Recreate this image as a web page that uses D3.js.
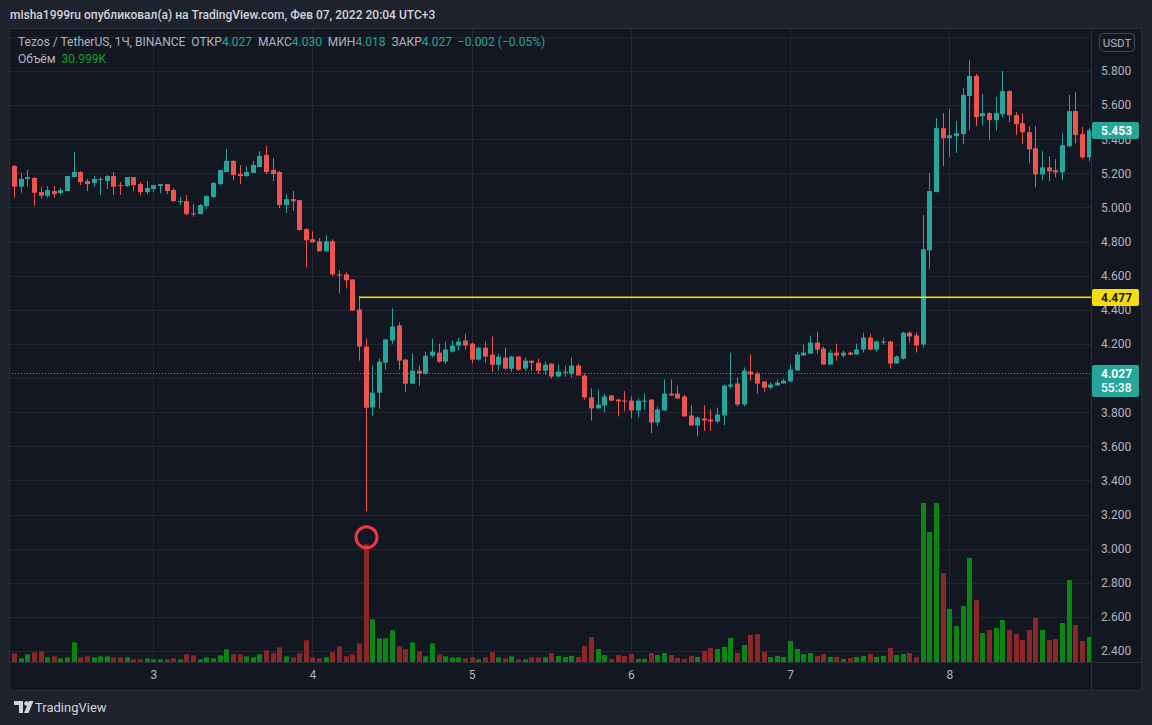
<!DOCTYPE html>
<html><head><meta charset="utf-8">
<script src="https://cdn.jsdelivr.net/npm/d3@7"></script>
<style>
html,body{margin:0;padding:0;background:#1e222d;overflow:hidden;}
svg{display:block;}
text{font-family:Roboto,"Noto Sans",sans-serif;}
</style>
</head><body>
<svg id="c" width="1152" height="725"></svg>
<script>
// ---- DATA (XTZ/USDT, 1h candles, Feb 2 03:00 .. Feb 8 21:00, UTC+3) ----
const startTime = [2022, 1, 2, 3];
const opens = [5.243,5.122,5.167,5.173,5.09,5.069,5.096,5.084,5.096,5.178,5.208,5.155,5.143,5.161,5.155,5.184,5.131,5.126,5.178,5.137,5.09,5.108,5.126,5.137,5.102,5.031,5.037,
4.965,4.961,5.008,5.061,5.137,5.208,5.273,5.196,5.184,5.202,5.237,5.308,5.22,5.208,5.014,5.049,5.043,4.873,4.814,4.802,4.743,4.802,4.608,4.608,4.578,4.402,4.185,
3.828,3.914,4.09,4.22,4.308,4.108,3.967,4.043,4.026,4.131,4.149,4.096,4.155,4.19,4.22,4.202,4.108,4.178,4.137,4.078,4.12,4.055,4.126,4.055,4.102,4.09,4.043,
4.085,4.009,4.032,4.026,4.073,4.015,3.886,3.822,3.839,3.898,3.874,3.868,3.868,3.81,3.865,3.874,3.74,3.81,3.909,3.909,3.892,3.781,3.722,3.763,3.757,3.745,3.781,
3.95,3.968,3.845,4.038,4.026,3.98,3.944,3.956,3.968,3.98,4.044,4.132,4.143,4.208,4.173,4.079,4.149,4.132,4.149,4.138,4.167,4.237,4.167,4.208,4.214,4.085,4.114,4.266,4.25,
4.197,4.749,5.09,5.465,5.406,5.418,5.43,5.653,5.771,5.535,5.553,5.512,5.547,5.682,5.541,5.494,5.441,5.347,5.194,5.235,5.218,5.206,5.359,5.565,5.43,5.294];
const highs = [5.249,5.204,5.22,5.178,5.118,5.126,5.126,5.116,5.184,5.325,5.214,5.167,5.184,5.178,5.19,5.208,5.149,5.178,5.178,5.149,5.155,5.131,5.137,5.137,5.114,5.061,5.073,
5.02,5.02,5.073,5.149,5.22,5.343,5.278,5.249,5.243,5.273,5.331,5.361,5.29,5.214,5.078,5.096,5.043,4.878,4.86,4.82,4.837,4.814,4.631,4.62,4.578,4.478,4.232,
4.073,4.114,4.231,4.408,4.326,4.114,4.143,4.073,4.155,4.231,4.202,4.214,4.22,4.237,4.261,4.208,4.184,4.214,4.243,4.143,4.178,4.131,4.131,4.12,4.102,4.114,4.096,
4.085,4.079,4.073,4.12,4.085,4.026,3.939,3.933,3.909,3.898,3.88,3.923,3.892,3.88,3.909,3.874,3.833,3.991,3.991,3.956,3.903,3.841,3.775,3.841,3.816,3.827,3.962,
4.149,4.003,4.062,4.138,4.038,3.98,3.974,3.991,3.997,4.079,4.155,4.196,4.249,4.272,4.184,4.167,4.202,4.161,4.155,4.202,4.266,4.26,4.22,4.237,4.22,4.132,4.272,4.273,4.267,
4.955,5.202,5.524,5.553,5.577,5.506,5.7,5.865,5.782,5.665,5.559,5.647,5.8,5.688,5.559,5.553,5.476,5.476,5.33,5.3,5.283,5.435,5.659,5.676,5.471,5.465];
const lows = [5.057,5.086,5.122,5.01,5.051,5.057,5.057,5.075,5.096,5.178,5.131,5.096,5.122,5.073,5.108,5.073,5.073,5.12,5.096,5.073,5.078,5.09,5.084,5.078,5.037,5.014,4.955,
4.945,4.961,4.99,5.055,5.131,5.208,5.161,5.137,5.178,5.202,5.237,5.196,5.155,4.996,4.967,4.98,4.867,4.649,4.796,4.743,4.743,4.596,4.496,4.525,4.396,4.102,3.22,
3.779,3.82,4.049,4.202,4.049,3.92,3.967,3.955,4.02,4.12,4.09,4.084,4.149,4.161,4.167,4.084,4.102,4.09,4.037,4.043,4.049,4.037,4.043,4.043,4.043,4.026,4.02,
3.999,4.003,4.009,4.003,4.015,3.874,3.751,3.822,3.8,3.863,3.775,3.806,3.763,3.769,3.816,3.677,3.718,3.81,3.894,3.88,3.775,3.722,3.658,3.69,3.69,3.734,3.724,
3.939,3.833,3.833,3.985,3.909,3.921,3.933,3.956,3.968,3.98,4.044,4.132,4.143,4.143,4.079,4.079,4.103,4.12,4.132,4.138,4.149,4.161,4.155,4.196,4.056,4.085,4.108,4.208,4.15,
4.179,4.638,5.09,5.243,5.296,5.32,5.371,5.453,5.477,5.482,5.394,5.453,5.53,5.5,5.424,5.371,5.259,5.118,5.159,5.153,5.177,5.159,5.353,5.376,5.283,5.271];
const closes = [5.122,5.167,5.178,5.086,5.069,5.102,5.078,5.102,5.184,5.208,5.149,5.137,5.167,5.167,5.184,5.122,5.127,5.178,5.131,5.09,5.114,5.131,5.137,5.096,5.037,5.037,4.961,
4.961,5.014,5.067,5.143,5.22,5.273,5.19,5.184,5.208,5.249,5.302,5.208,5.196,5.014,5.049,5.037,4.867,4.808,4.796,4.743,4.802,4.608,4.602,4.573,4.396,4.185,3.826,
3.914,4.096,4.226,4.302,4.102,3.967,4.043,4.026,4.131,4.155,4.096,4.167,4.19,4.214,4.19,4.108,4.178,4.126,4.078,4.126,4.055,4.126,4.049,4.102,4.09,4.043,4.078,
4.009,4.038,4.038,4.073,4.015,3.886,3.822,3.845,3.892,3.868,3.863,3.863,3.81,3.868,3.868,3.74,3.816,3.909,3.898,3.88,3.775,3.722,3.769,3.751,3.745,3.786,3.956,
3.962,3.845,4.044,4.021,3.968,3.944,3.962,3.974,3.985,4.05,4.138,4.149,4.208,4.167,4.079,4.149,4.132,4.149,4.138,4.167,4.237,4.167,4.214,4.214,4.085,4.126,4.266,4.244,4.191,
4.755,5.096,5.465,5.406,5.424,5.435,5.659,5.771,5.53,5.553,5.512,5.553,5.682,5.541,5.488,5.441,5.341,5.194,5.235,5.212,5.206,5.365,5.565,5.424,5.294,5.453];
const volumes = [87,37,77,97,107,47,57,37,47,197,47,57,47,57,57,47,47,47,27,27,37,27,27,27,37,27,77,67,27,47,37,67,127,77,77,57,47,77,117,87,147,57,47,87,217,47,37,47,97,157,57,77,187,1177,
427,237,237,317,157,127,197,107,57,187,77,57,47,47,37,47,27,47,97,47,37,57,27,27,47,47,47,
90,60,50,60,50,160,250,130,70,30,70,60,80,30,30,90,70,90,70,40,30,60,50,110,140,130,150,240,90,170,270,280,100,50,60,50,210,130,80,90,60,80,50,50,30,40,50,60,80,50,
60,140,70,80,90,50,1590,1300,1590,890,530,360,560,1040,620,290,320,340,420,320,280,220,320,440,320,220,230,390,820,370,210,250];
const priceTicks = [2.4,2.6,2.8,3.0,3.2,3.4,3.6,3.8,4.0,4.2,4.4,4.6,4.8,5.0,5.2,5.4,5.6,5.8,6.0];
const hiddenTickLabels = [4.0, 6.0]; // covered by the price badges / USDT button in the reference
const lastPrice = 5.453;
const levelPrice = 4.477;
const curPrice = 4.027;
const curTimer = "55:38";
const levelStartIndex = 52;
const markIndex = 53;

// ---- LAYOUT ----
const W = 1152, H = 725;
const P = {l: 9, t: 28, r: 1091, b: 662, axR: 1141, axB: 690};
const C = {bg:"#1e222d", pane:"#131722", grid:"#232733", border:"#2a2e39", text:"#b2b5be",
  up:"#26a69a", down:"#ef5350", vUp:"#0b8513", vDown:"#8c2727", yellow:"#f5dc0a"};

const svg = d3.select("#c");
const times = opens.map((_, i) => new Date(startTime[0], startTime[1], startTime[2], startTime[3] + i));
const n = opens.length;
const step = 6.633;
const x = d3.scaleTime().domain([times[0], times[n-1]]).range([14, 14 + (n-1)*step]);
const y = d3.scaleLinear().domain([2.4, 5.8]).range([651, 71]);
const vMax = 1600;
const yv = d3.scaleLinear().domain([0, vMax]).range([P.b, P.b - 160]);

svg.append("rect").attr("width", W).attr("height", H).attr("fill", C.bg);
svg.append("rect").attr("x", P.l + .5).attr("y", P.t + .5).attr("width", P.axR - P.l).attr("height", P.axB - P.t)
  .attr("fill", C.pane).attr("stroke", C.border);

// header
svg.append("text").attr("x", 10).attr("y", 19).attr("fill", "#d1d4dc").attr("font-size", 12).attr("font-weight", 500)
  .text("misha1999ru опубликовал(а) на TradingView.com, Фев 07, 2022 20:04 UTC+3");

svg.append("defs").append("clipPath").attr("id", "plot").append("rect")
  .attr("x", P.l + 1).attr("y", P.t + 1).attr("width", P.r - P.l - 1).attr("height", P.b - P.t - 1);

const plot = svg.append("g").attr("clip-path", "url(#plot)");

// grid
plot.append("g").selectAll("line").data(priceTicks).join("line")
  .attr("x1", P.l).attr("x2", P.r).attr("y1", d => Math.round(y(d)) + .5).attr("y2", d => Math.round(y(d)) + .5)
  .attr("stroke", C.grid);
const dayTicks = x.ticks(d3.timeDay.every(1));
plot.append("g").selectAll("line").data(dayTicks).join("line")
  .attr("y1", P.t).attr("y2", P.b).attr("x1", d => Math.round(x(d)) + .5).attr("x2", d => Math.round(x(d)) + .5)
  .attr("stroke", C.grid);

const idx = d3.range(n);
const cx = i => Math.round(x(times[i]));
const isUp = i => closes[i] >= opens[i];

// volume
plot.append("g").selectAll("rect").data(idx).join("rect")
  .attr("x", i => cx(i) - 2).attr("width", 5)
  .attr("y", i => yv(volumes[i])).attr("height", i => P.b - yv(volumes[i]))
  .attr("fill", i => isUp(i) ? C.vUp : C.vDown);

// candles
const cg = plot.append("g");
cg.selectAll("line").data(idx).join("line")
  .attr("x1", i => cx(i) + .5).attr("x2", i => cx(i) + .5)
  .attr("y1", i => y(highs[i])).attr("y2", i => y(lows[i]))
  .attr("stroke", i => isUp(i) ? C.up : C.down);
cg.selectAll("rect").data(idx).join("rect")
  .attr("x", i => cx(i) - 2).attr("width", 5)
  .attr("y", i => y(Math.max(opens[i], closes[i])))
  .attr("height", i => Math.max(1, Math.abs(y(opens[i]) - y(closes[i]))))
  .attr("fill", i => isUp(i) ? C.up : C.down);

// level line
plot.append("rect").attr("x", cx(levelStartIndex)).attr("width", P.r - cx(levelStartIndex))
  .attr("y", Math.round(y(levelPrice)) - 0.5).attr("height", 1.6)
  .attr("fill", C.yellow);
// current price dotted line
plot.append("line").attr("x1", P.l).attr("x2", P.r)
  .attr("y1", Math.round(y(curPrice)) + .5).attr("y2", Math.round(y(curPrice)) + .5)
  .attr("stroke", C.up).attr("stroke-dasharray", "1,2");

// marker circle on top of volume spike
svg.append("circle").attr("cx", cx(markIndex) + .5).attr("cy", yv(volumes[markIndex]) - 7)
  .attr("r", 10.5).attr("fill", "none").attr("stroke", "#f23645").attr("stroke-width", 3);

// separators
svg.append("line").attr("x1", P.r + .5).attr("x2", P.r + .5).attr("y1", P.t).attr("y2", P.axB).attr("stroke", C.border);
svg.append("line").attr("x1", P.l).attr("x2", P.axR).attr("y1", P.b + .5).attr("y2", P.b + .5).attr("stroke", C.border);

// price axis
const labelTicks = priceTicks.filter(t => !hiddenTickLabels.includes(t));
const ya = svg.append("g").attr("transform", `translate(${P.r},0)`)
  .call(d3.axisRight(y).tickValues(labelTicks).tickFormat(d3.format(".3f")).tickSize(0).tickPadding(10));
ya.select(".domain").remove();
ya.selectAll("text").attr("fill", C.text).attr("font-size", 12).attr("font-family", "Roboto, sans-serif");

// time axis
const xa = svg.append("g").attr("transform", `translate(0,${P.b})`)
  .call(d3.axisBottom(x).ticks(d3.timeDay.every(1)).tickFormat(d3.timeFormat("%-d")).tickSize(0).tickPadding(8));
xa.select(".domain").remove();
xa.selectAll("text").attr("fill", C.text).attr("font-size", 12).attr("font-family", "Roboto, sans-serif");

// USDT button
svg.append("rect").attr("x", 1099.5).attr("y", 33.5).attr("width", 35).attr("height", 18).attr("rx", 4)
  .attr("fill", C.pane).attr("stroke", "#434651");
svg.append("text").attr("x", 1117).attr("y", 46.5).attr("text-anchor", "middle").attr("fill", C.text)
  .attr("font-size", 11.5).text("USDT");

// price labels
function priceLabel(p, bg, fg, lines, h) {
  const yy = y(p);
  const g = svg.append("g");
  g.append("rect").attr("x", P.r + 1).attr("y", Math.round(yy) - 8).attr("width", 47).attr("height", h)
    .attr("rx", 2).attr("fill", bg);
  lines.forEach((t, k) => g.append("text").attr("x", P.r + 10).attr("y", Math.round(yy) + 4.5 + k * 14)
    .attr("fill", fg).attr("font-size", 12).attr("font-weight", k === 0 ? 700 : 500).text(t));
}
priceLabel(lastPrice, C.up, "#ffffff", [d3.format(".3f")(lastPrice)], 17);
priceLabel(levelPrice, C.yellow, "#131722", [d3.format(".3f")(levelPrice)], 17);
priceLabel(curPrice, C.up, "#ffffff", [d3.format(".3f")(curPrice), curTimer], 32);

// legend
const lg = svg.append("text").attr("x", 18).attr("y", 46).attr("font-size", 12).attr("fill", C.text).attr("xml:space", "preserve");
const parts = [["Tezos / TetherUS, 1Ч, BINANCE  ", C.text], ["ОТКР", C.text], ["4.027  ", C.up], ["МАКС", C.text], ["4.030  ", C.up],
  ["МИН", C.text], ["4.018  ", C.up], ["ЗАКР", C.text], ["4.027  ", C.up], ["−0.002 (−0.05%)", C.up]];
parts.forEach(([t, c]) => lg.append("tspan").attr("fill", c).text(t));
const lg2 = svg.append("text").attr("x", 18).attr("y", 63).attr("font-size", 12).attr("xml:space", "preserve");
lg2.append("tspan").attr("fill", C.text).text("Объём  ");
lg2.append("tspan").attr("fill", "#1a9a2a").text("30.999K");

// footer logo
const fl = svg.append("g").attr("fill", "#d1d4dc");
fl.append("path").attr("d", "M14,701 h9 v12 h-4 v-8 h-5 z");
fl.append("circle").attr("cx", 26.5).attr("cy", 703.5).attr("r", 2.3);
fl.append("path").attr("d", "M29,701 h4.5 l-5,12 h-4.5 z");
fl.append("text").attr("x", 35).attr("y", 712).attr("font-size", 13).attr("fill", "#d1d4dc").text("TradingView");
</script>
</body></html>
